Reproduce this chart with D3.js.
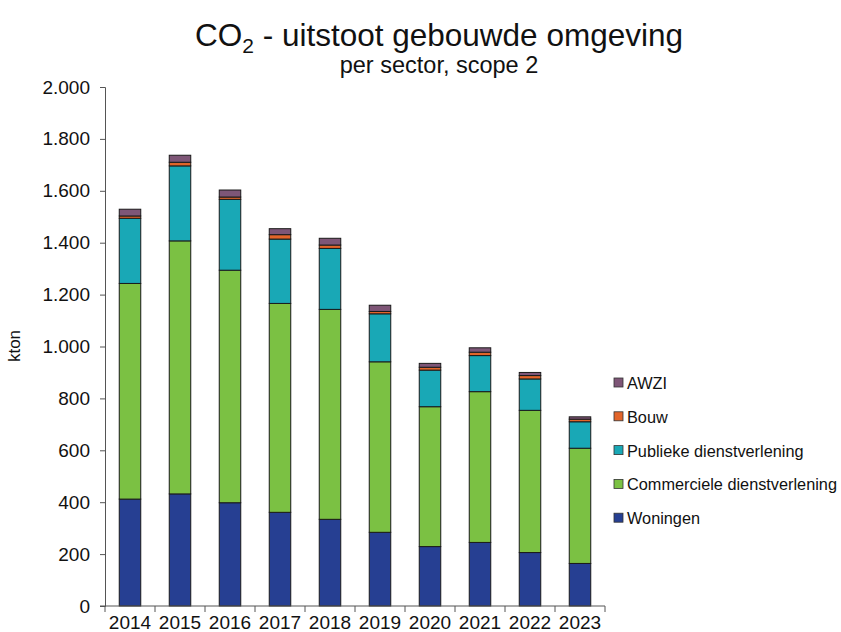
<!DOCTYPE html>
<html>
<head>
<meta charset="utf-8">
<script src="https://cdn.jsdelivr.net/npm/d3@7/dist/d3.min.js"></script>
<style>
  html, body { margin: 0; padding: 0; background: #ffffff; }
  svg { display: block; font-family: "Liberation Sans", Arial, sans-serif; }
</style>
</head>
<body>
<svg id="chart" width="841" height="632"></svg>
<script>
const years = ["2014","2015","2016","2017","2018","2019","2020","2021","2022","2023"];
const woningen    = [412, 432, 398, 361, 334, 284, 229, 245, 206, 164];
const commercieel = [831, 975, 896, 805, 809, 657, 539, 581, 548, 444];
const publiek     = [251, 289, 273, 248, 235, 185, 141, 139, 121, 102];
const bouw        = [9, 14, 9, 17, 13, 9, 11, 13, 13, 10];
const awzi        = [26, 27, 27, 23, 26, 24, 15, 17, 12, 9];
const seriesNames = ["Woningen", "Commerciele dienstverlening", "Publieke dienstverlening", "Bouw", "AWZI"];
const seriesColors = ["#263f92", "#7bc143", "#19a8b6", "#e2652a", "#7e5677"];
const yTicks = [0, 200, 400, 600, 800, 1000, 1200, 1400, 1600, 1800, 2000];

const seriesValues = [woningen, commercieel, publiek, bouw, awzi];
const rows = years.map((y, i) => {
  const r = { year: y };
  seriesNames.forEach((s, k) => r[s] = seriesValues[k][i]);
  return r;
});

const svg = d3.select("#chart");
const plot = { left: 105, right: 605, top: 87, bottom: 606 };

const pIn = 0.57;
const x = d3.scaleBand().domain(years).range([plot.left, plot.right])
  .paddingInner(pIn).paddingOuter(pIn / 2);
const y = d3.scaleLinear().domain([0, 2000]).range([plot.bottom, plot.top]);

const fmt = v => d3.format(",")(v).replace(/,/g, ".");

// Title
const title = svg.append("text").attr("x", 439).attr("y", 46)
  .attr("text-anchor", "middle").attr("font-size", 31.5).attr("fill", "#111");
title.append("tspan").text("CO");
title.append("tspan").attr("font-size", 21).attr("dy", 7).text("2");
title.append("tspan").attr("dy", -7).text(" - uitstoot gebouwde omgeving");

svg.append("text").attr("x", 439).attr("y", 73).attr("text-anchor", "middle")
  .attr("font-size", 23.5).attr("fill", "#111").text("per sector, scope 2");

// Stacked bars
const stack = d3.stack().keys(seriesNames);
const stacked = stack(rows);
svg.append("g").selectAll("g").data(stacked).join("g")
  .attr("fill", (d, i) => seriesColors[i])
  .selectAll("rect").data(d => d).join("rect")
  .attr("x", d => x(d.data.year))
  .attr("width", x.bandwidth())
  .attr("y", d => y(d[1]))
  .attr("height", d => y(d[0]) - y(d[1]))
  .attr("stroke", "#1a1a1a").attr("stroke-width", 1);

// Y axis
const yAxis = d3.axisLeft(y).tickValues(yTicks).tickFormat(fmt).tickSize(5).tickPadding(10);
const gy = svg.append("g").attr("transform", `translate(${plot.left},0)`).call(yAxis);
gy.select(".domain").attr("stroke", "#555");
gy.selectAll(".tick line").attr("stroke", "#555");
gy.selectAll(".tick text").attr("font-size", 19).attr("fill", "#111")
  .attr("font-family", "'Liberation Sans', Arial, sans-serif");

// X axis
const xAxis = d3.axisBottom(x).tickSize(0).tickPadding(10);
const gx = svg.append("g").attr("transform", `translate(0,${plot.bottom})`).call(xAxis);
gx.select(".domain").attr("stroke", "#555").attr("d", `M${plot.left - 5},0H${plot.right}`);
gx.selectAll(".tick text").attr("font-size", 19).attr("fill", "#111")
  .attr("font-family", "'Liberation Sans', Arial, sans-serif");
const bounds = years.map(yy => x(yy) - x.step() * pIn / 2).concat([plot.right]);
gx.selectAll(".bnd").data(bounds).join("line").attr("class", "bnd")
  .attr("x1", d => d).attr("x2", d => d).attr("y1", 0).attr("y2", 6)
  .attr("stroke", "#555");

// Y axis label
svg.append("text").attr("transform", "translate(20,346) rotate(-90)")
  .attr("text-anchor", "middle").attr("font-size", 17).attr("fill", "#111").text("kton");

// Legend (reverse order)
const legendOrder = seriesNames.map((s, i) => i).reverse();
const lg = svg.append("g");
legendOrder.forEach((k, j) => {
  const yy = 383 + j * 33.8;
  lg.append("rect").attr("x", 614).attr("y", yy - 5).attr("width", 9).attr("height", 9)
    .attr("fill", seriesColors[k]).attr("stroke", "#333").attr("stroke-width", 0.8);
  lg.append("text").attr("x", 627).attr("y", yy + 6).attr("font-size", 16.3)
    .attr("fill", "#111").text(seriesNames[k]);
});
</script>
</body>
</html>
